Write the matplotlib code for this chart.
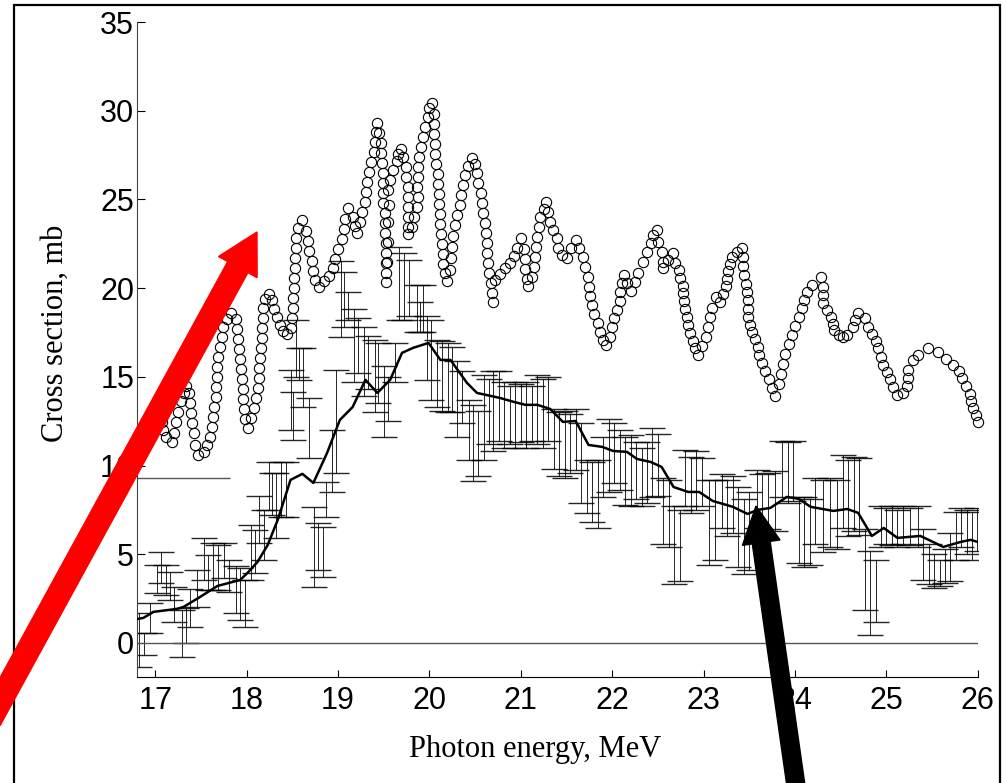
import numpy as np
import matplotlib.pyplot as plt
from matplotlib.patches import FancyArrow, Rectangle

plt.rcParams['font.family'] = ['Liberation Sans', 'DejaVu Sans']

# 计算截面（圆圈）
cx = [16.81, 16.90, 16.98, 17.04, 17.07, 17.09, 17.12, 17.18, 17.20, 17.23, 17.25, 17.28, 17.31, 17.34, 17.37, 17.38,
      17.39, 17.40, 17.42, 17.44, 17.47, 17.53, 17.57, 17.60, 17.62, 17.63, 17.64, 17.66, 17.67, 17.68, 17.68, 17.69,
      17.71, 17.73, 17.74, 17.78, 17.83, 17.88, 17.90, 17.91, 17.92, 17.93, 17.94, 17.95, 17.96, 17.96, 17.97, 17.98,
      18.01, 18.05, 18.08, 18.10, 18.12, 18.13, 18.14, 18.15, 18.16, 18.17, 18.17, 18.18, 18.18, 18.20, 18.24, 18.28,
      18.30, 18.33, 18.37, 18.40, 18.44, 18.49, 18.50, 18.51, 18.51, 18.52, 18.52, 18.53, 18.53, 18.54, 18.54, 18.56,
      18.61, 18.65, 18.67, 18.68, 18.71, 18.73, 18.75, 18.79, 18.85, 18.90, 18.94, 18.97, 19.00, 19.04, 19.06, 19.08,
      19.11, 19.16, 19.19, 19.21, 19.24, 19.26, 19.29, 19.31, 19.32, 19.34, 19.36, 19.39, 19.40, 19.41, 19.43, 19.45,
      19.47, 19.47, 19.48, 19.49, 19.49, 19.49, 19.49, 19.51, 19.51, 19.51, 19.52, 19.52, 19.52, 19.52, 19.52, 19.54,
      19.55, 19.55, 19.56, 19.55, 19.57, 19.60, 19.64, 19.66, 19.69, 19.71, 19.74, 19.74, 19.76, 19.76, 19.77, 19.77,
      19.77, 19.77, 19.81, 19.83, 19.86, 19.87, 19.86, 19.87, 19.88, 19.89, 19.91, 19.93, 19.95, 19.98, 20.00, 20.03,
      20.05, 20.05, 20.05, 20.06, 20.06, 20.07, 20.09, 20.09, 20.10, 20.10, 20.11, 20.12, 20.13, 20.14, 20.15, 20.15,
      20.17, 20.19, 20.22, 20.24, 20.25, 20.26, 20.28, 20.30, 20.33, 20.35, 20.37, 20.39, 20.42, 20.47, 20.50, 20.52,
      20.53, 20.56, 20.58, 20.59, 20.61, 20.62, 20.63, 20.63, 20.64, 20.65, 20.67, 20.68, 20.69, 20.72, 20.77, 20.83,
      20.88, 20.92, 20.96, 21.00, 21.03, 21.04, 21.05, 21.07, 21.08, 21.12, 21.14, 21.16, 21.17, 21.18, 21.20, 21.21,
      21.25, 21.28, 21.30, 21.32, 21.35, 21.39, 21.41, 21.45, 21.51, 21.55, 21.60, 21.64, 21.68, 21.70, 21.73, 21.74,
      21.76, 21.78, 21.80, 21.84, 21.87, 21.90, 21.93, 21.97, 22.00, 22.02, 22.05, 22.08, 22.09, 22.11, 22.13, 22.16,
      22.20, 22.25, 22.28, 22.34, 22.38, 22.42, 22.45, 22.49, 22.50, 22.54, 22.56, 22.56, 22.61, 22.66, 22.69, 22.73,
      22.74, 22.77, 22.77, 22.78, 22.80, 22.82, 22.83, 22.85, 22.88, 22.91, 22.94, 22.98, 23.02, 23.05, 23.07, 23.09,
      23.13, 23.18, 23.21, 23.24, 23.26, 23.27, 23.29, 23.31, 23.36, 23.42, 23.43, 23.43, 23.44, 23.46, 23.47, 23.48,
      23.48, 23.49, 23.51, 23.53, 23.56, 23.59, 23.60, 23.64, 23.67, 23.71, 23.75, 23.78, 23.82, 23.85, 23.87, 23.89,
      23.93, 23.97, 24.00, 24.04, 24.08, 24.10, 24.13, 24.19, 24.28, 24.30, 24.31, 24.31, 24.35, 24.39, 24.41, 24.43,
      24.48, 24.52, 24.57, 24.63, 24.66, 24.69, 24.77, 24.80, 24.84, 24.88, 24.91, 24.94, 24.96, 25.01, 25.04, 25.07,
      25.12, 25.18, 25.22, 25.23, 25.24, 25.29, 25.35, 25.45, 25.56, 25.65, 25.73, 25.79, 25.83, 25.87, 25.91, 25.93,
      25.95, 25.98, 26.00]
cy = [11.61, 12.23, 12.80, 12.91, 12.46, 12.01, 11.61, 11.33, 11.84, 12.46, 13.02, 13.64, 14.09, 14.49, 14.09, 13.53,
      12.97, 12.40, 11.84, 11.16, 10.60, 10.77, 11.16, 11.61, 12.18, 12.74, 13.30, 13.87, 14.43, 14.99, 15.56, 16.12,
      16.69, 17.25, 17.81, 18.26, 18.60, 18.26, 17.70, 17.14, 16.57, 16.01, 15.45, 14.88, 14.32, 13.75, 13.19, 12.63,
      12.12, 12.68, 13.25, 13.81, 14.37, 14.94, 15.50, 16.07, 16.63, 17.19, 17.76, 18.32, 18.88, 19.39, 19.67, 19.33,
      18.83, 18.38, 17.93, 17.59, 17.42, 17.76, 18.32, 18.88, 19.45, 20.01, 20.58, 21.14, 21.70, 22.27, 22.83, 23.39,
      23.84, 23.22, 22.66, 22.10, 21.53, 20.97, 20.46, 20.07, 20.41, 20.69, 21.14, 21.65, 22.21, 22.77, 23.34, 23.90,
      24.52, 24.01, 23.51, 23.11, 23.73, 24.30, 24.86, 25.42, 25.99, 26.55, 27.11, 27.68, 28.24, 28.81, 29.31, 28.75,
      28.18, 27.62, 27.06, 26.49, 25.93, 25.37, 24.80, 24.24, 23.68, 23.11, 22.55, 21.98, 21.42, 20.86, 20.35, 21.48,
      22.60, 23.73, 24.69, 25.54, 26.10, 26.66, 27.17, 27.56, 27.85, 27.40, 26.83, 26.27, 25.70, 25.14, 24.58, 24.01,
      23.45, 23.06, 23.45, 24.01, 24.58, 25.14, 25.70, 26.27, 26.83, 27.40, 27.96, 28.52, 29.09, 29.65, 30.16, 30.44,
      29.82, 29.26, 28.69, 28.13, 27.56, 27.00, 26.44, 25.87, 25.31, 24.75, 24.18, 23.62, 23.06, 22.49, 21.93, 21.36,
      20.86, 20.41, 21.03, 21.70, 22.32, 22.94, 23.56, 24.13, 24.69, 25.25, 25.82, 26.38, 26.89, 27.34, 27.00, 26.49,
      25.93, 25.37, 24.80, 24.24, 23.68, 23.11, 22.55, 21.98, 21.42, 20.86, 20.29, 19.73, 19.22, 20.46, 20.80, 21.14,
      21.42, 21.82, 22.27, 22.83, 22.21, 21.65, 21.08, 20.52, 20.12, 20.63, 21.20, 21.76, 22.32, 22.89, 23.45, 24.01,
      24.46, 24.86, 24.30, 23.73, 23.28, 22.83, 22.27, 21.87, 21.70, 22.27, 22.72, 22.27, 21.76, 21.20, 20.63, 20.07,
      19.56, 19.05, 18.55, 18.04, 17.53, 17.08, 16.80, 17.25, 17.81, 18.32, 18.77, 19.28, 19.79, 20.29, 20.74, 20.29,
      19.84, 20.35, 20.86, 21.48, 22.04, 22.55, 23.00, 23.28, 22.60, 22.04, 21.48, 21.14, 21.59, 21.98, 21.42, 21.03,
      20.58, 20.12, 19.73, 19.28, 18.83, 18.38, 17.93, 17.47, 17.02, 16.63, 16.23, 16.74, 17.25, 17.81, 18.38, 18.88,
      19.50, 19.22, 19.67, 20.12, 20.52, 20.97, 21.36, 21.76, 22.04, 22.27, 21.76, 21.25, 20.74, 20.24, 19.79, 19.33,
      18.83, 18.38, 17.93, 17.53, 17.14, 16.69, 16.23, 15.78, 15.33, 14.88, 14.37, 13.92, 14.60, 15.16, 15.73, 16.29,
      16.85, 17.36, 17.87, 18.38, 18.88, 19.33, 19.79, 20.18, 20.63, 20.07, 19.62, 19.17, 18.77, 18.38, 17.98, 17.64,
      17.36, 17.25, 17.36, 17.81, 18.21, 18.60, 18.32, 17.81, 17.42, 17.02, 16.63, 16.12, 15.67, 15.28, 14.88, 14.43,
      13.98, 14.09, 14.49, 14.94, 15.39, 15.95, 16.23, 16.63, 16.40, 16.01, 15.67, 15.33, 14.94, 14.49, 14.04, 13.64,
      13.25, 12.85, 12.46]

# 平均曲线
lx = [16.80, 16.87, 16.98, 17.24, 17.31, 17.49, 17.68, 17.93, 18.01, 18.12, 18.23, 18.34, 18.48, 18.61, 18.73,
      18.88, 19.02, 19.16, 19.30, 19.43, 19.57, 19.70, 19.82, 19.99, 20.12, 20.23, 20.41, 20.52, 20.77, 20.92,
      21.05, 21.18, 21.32, 21.46, 21.60, 21.74, 21.89, 22.01, 22.16, 22.27, 22.42, 22.54, 22.67, 22.83, 22.95,
      23.10, 23.32, 23.48, 23.59, 23.73, 23.91, 24.04, 24.17, 24.42, 24.57, 24.69, 24.84, 24.97, 25.12, 25.37,
      25.51, 25.62, 25.81, 25.92, 26.00]
ly = [1.35, 1.41, 1.75, 1.92, 2.03, 2.59, 3.21, 3.55, 3.95, 4.57, 5.52, 6.93, 9.19, 9.53, 9.02,
      10.71, 12.57, 13.30, 14.83, 14.09, 14.83, 16.35, 16.63, 16.91, 15.95, 15.95, 14.66, 14.09, 13.81, 13.59,
      13.42, 13.42, 13.19, 12.46, 12.51, 11.16, 11.05, 10.82, 10.77, 10.37, 10.20, 9.92, 8.79, 8.51, 8.51,
      8.00, 7.67, 7.27, 7.50, 7.61, 8.23, 8.12, 7.67, 7.44, 7.55, 7.33, 6.03, 6.48, 5.92, 6.03,
      5.69, 5.41, 5.69, 5.81, 5.69]

# 实验点：能量、误差下限、误差上限
ex = [16.82, 16.88, 16.94, 17.02, 17.06, 17.12, 17.16, 17.21, 17.29, 17.34, 17.38, 17.46, 17.53, 17.58, 17.63,
      17.69, 17.75, 17.81, 17.88, 17.93, 17.98, 18.05, 18.09, 18.14, 18.19, 18.24, 18.28, 18.32, 18.38, 18.43,
      18.48, 18.51, 18.54, 18.57, 18.62, 18.68, 18.74, 18.78, 18.83, 18.87, 18.93, 18.98, 19.03, 19.07, 19.11,
      19.17, 19.22, 19.28, 19.33, 19.40, 19.44, 19.50, 19.55, 19.62, 19.67, 19.72, 19.78, 19.86, 19.90, 19.93,
      19.97, 20.02, 20.08, 20.14, 20.20, 20.25, 20.30, 20.36, 20.43, 20.48, 20.53, 20.60, 20.65, 20.70, 20.76,
      20.82, 20.88, 20.94, 21.00, 21.06, 21.12, 21.18, 21.24, 21.30, 21.36, 21.42, 21.48, 21.54, 21.60, 21.66,
      21.72, 21.78, 21.84, 21.90, 21.96, 22.02, 22.08, 22.14, 22.20, 22.26, 22.32, 22.38, 22.44, 22.50, 22.56,
      22.62, 22.68, 22.74, 22.80, 22.86, 22.92, 22.98, 23.06, 23.12, 23.20, 23.26, 23.32, 23.38, 23.44, 23.50,
      23.58, 23.64, 23.70, 23.78, 23.86, 23.92, 23.98, 24.04, 24.10, 24.16, 24.22, 24.30, 24.38, 24.46, 24.52,
      24.58, 24.64, 24.70, 24.76, 24.82, 24.88, 24.94, 25.00, 25.06, 25.12, 25.18, 25.26, 25.34, 25.40, 25.46,
      25.52, 25.58, 25.64, 25.70, 25.76, 25.82, 25.88, 25.94, 25.99]
elo = [-1.35, -0.68, 0.56, 2.82, 3.38, 2.71, 2.42, 1.18, -0.79, 0.00, 0.90, 2.03, 3.55, 2.99, 2.99,
       2.99, 3.66, 2.87, 1.69, 1.30, 0.90, 3.55, 3.95, 5.64, 4.68, 7.50, 7.22, 5.92, 7.10, 7.10,
       12.01, 11.44, 14.99, 14.83, 13.30, 10.43, 3.16, 4.12, 3.72, 7.10, 8.51, 9.58, 17.25, 17.80, 18.20,
       14.70, 15.20, 13.90, 14.30, 13.00, 13.50, 11.60, 12.50, 14.70, 18.20, 18.20, 18.40, 17.50, 17.50, 17.50,
       14.80, 13.70, 13.30, 13.10, 13.00, 13.00, 11.60, 12.40, 10.30, 9.10, 9.40, 10.30, 11.20, 10.80, 11.40,
       11.00, 11.20, 11.00, 11.30, 11.00, 11.40, 11.20, 11.00, 11.40, 9.80, 9.40, 9.30, 9.60, 9.75, 7.90,
       7.30, 6.80, 6.50, 8.20, 8.50, 9.00, 8.60, 7.80, 7.70, 8.10, 7.70, 7.90, 8.20, 8.30, 5.60,
       5.40, 3.30, 3.50, 7.70, 7.30, 7.50, 7.70, 4.40, 4.70, 6.50, 6.00, 6.20, 4.30, 3.90, 4.10,
       6.50, 6.20, 6.40, 6.30, 8.20, 7.90, 8.00, 4.50, 4.30, 4.40, 5.60, 5.10, 5.40, 5.30, 6.50,
       6.00, 6.30, 6.10, 1.86, 0.45, 1.20, 5.40, 5.60, 5.50, 5.40, 5.60, 5.50, 5.40, 3.55, 3.30,
       3.10, 3.20, 3.40, 3.50, 4.70, 5.40, 5.00, 4.70, 5.20]
ehi = [1.69, 0.56, 2.25, 4.40, 5.13, 4.40, 4.00, 3.16, 1.86, 1.97, 3.04, 4.12, 5.92, 4.96, 5.64,
       5.52, 5.64, 4.68, 4.34, 4.23, 3.55, 6.65, 6.37, 8.29, 7.50, 10.20, 9.58, 9.58, 10.20, 10.20,
       15.39, 14.15, 18.21, 16.63, 16.63, 13.81, 7.67, 6.76, 6.54, 9.08, 12.01, 15.39, 21.50, 20.90, 19.80,
       18.80, 18.30, 17.80, 17.30, 17.10, 16.90, 15.60, 15.00, 16.90, 22.30, 22.00, 21.60, 20.20, 19.20, 20.20,
       18.40, 18.20, 17.10, 17.00, 16.90, 16.70, 15.90, 15.30, 13.70, 13.40, 13.10, 15.10, 14.90, 15.30, 15.30,
       14.70, 14.50, 14.70, 14.60, 14.70, 14.50, 15.10, 14.90, 15.00, 13.20, 13.00, 13.10, 12.90, 13.20, 12.40,
       10.30, 10.20, 10.30, 11.60, 12.60, 12.40, 12.00, 11.60, 11.70, 11.30, 11.00, 11.30, 12.10, 11.80, 9.30,
       9.20, 7.70, 7.50, 10.90, 10.50, 10.80, 10.40, 9.20, 9.20, 9.50, 9.20, 9.40, 8.80, 8.10, 8.50,
       9.75, 9.50, 9.60, 9.70, 11.40, 11.30, 11.40, 8.20, 8.20, 8.10, 9.30, 9.20, 9.30, 9.20, 10.60,
       10.30, 10.50, 10.40, 6.40, 5.20, 4.70, 7.70, 7.60, 7.70, 7.50, 7.70, 7.60, 7.70, 6.40, 5.60,
       5.00, 4.70, 5.30, 6.20, 7.40, 7.60, 7.50, 7.40, 7.60]

# 水平线：零线和左侧短线
zero_level = 0.0
short_level = 9.3
short_end = 17.82

xticks = np.arange(17, 27, 1)
yticks = np.arange(0, 40, 5)

fig = plt.figure(figsize=(10.07, 7.83), dpi=100)
ax = fig.add_axes([0.136, 0.1354, 0.8351, 0.8365])

ex = np.array(ex)
elo = np.array(elo)
ehi = np.array(ehi)
ey = (elo + ehi) / 2
ax.errorbar(ex, ey, yerr=[ey - elo, ehi - ey], fmt='none', ecolor='black',
            elinewidth=0.7, capsize=9.5, capthick=1.0, alpha=0.85)

ax.plot(lx, ly, color='black', linewidth=1.8, zorder=3)
ax.plot(cx, cy, 'o', markersize=7.4, markerfacecolor='none', markeredgecolor='black',
        markeredgewidth=0.8, clip_on=False, zorder=4)

ax.axhline(zero_level, color='#555555', linewidth=1.0)
ax.hlines(short_level, 16.80, short_end, color='#555555', linewidth=1.0)

ax.set_xlim(16.80, 26.0)
ax.set_ylim(-1.92, 35)
ax.set_xticks(xticks)
ax.set_yticks(yticks)
ax.spines['top'].set_visible(False)
ax.spines['right'].set_visible(False)
ax.spines['left'].set_color('#444444')
ax.tick_params(axis='x', direction='in', length=5, width=0.8, labelsize=22, pad=6.5)
ax.tick_params(axis='y', direction='in', length=6, width=0.8, labelsize=22, pad=2)

ax.set_xlabel('Photon energy, MeV', family='Liberation Serif', fontsize=22)
ax.set_ylabel('Cross section, mb', family='Liberation Serif', fontsize=22)
ax.xaxis.set_label_coords(0.473, -0.088)
ax.yaxis.set_label_coords(-0.080, 0.524)

# 外框
fig.add_artist(Rectangle((14 / 1007, -0.05), 986 / 1007, 1.05 - 5 / 783, transform=fig.transFigure,
                         fill=False, edgecolor='black', linewidth=1.6))

# 箭头（英寸坐标）
tr = fig.dpi_scale_trans
fig.add_artist(FancyArrow(-0.10, 0.63, 2.67, 4.88, width=0.23, head_width=0.44, head_length=0.40,
                          length_includes_head=True, color='red', transform=tr, zorder=10))
fig.add_artist(FancyArrow(7.98, -0.17, -0.42, 2.94, width=0.18, head_width=0.38, head_length=0.37,
                          length_includes_head=True, color='black', transform=tr, zorder=10))

plt.savefig('out.png', dpi=100)
